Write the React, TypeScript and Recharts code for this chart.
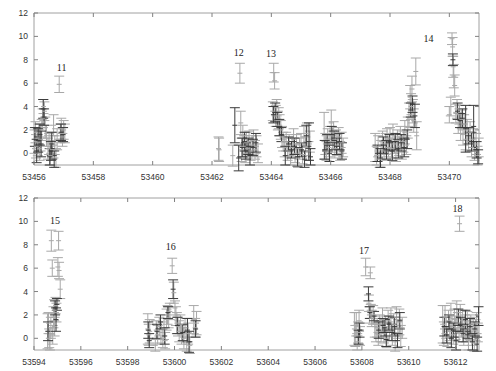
import { ScatterChart, Scatter, XAxis, YAxis, ErrorBar, ReferenceArea } from 'recharts';

// [time (MJD), value, error]
type Pt = [number, number, number];

const yTicks = [0, 2, 4, 6, 8, 10, 12];
const topTicks = [53456, 53458, 53460, 53462, 53464, 53466, 53468, 53470];
const bottomTicks = [53594, 53596, 53598, 53600, 53602, 53604, 53606, 53608, 53610, 53612];

const topGray: Pt[] = [
    [53456.02, 1.0, 1.0], [53456.05, 1.8, 0.9], [53456.07, 0.6, 1.0], [53456.10, 1.3, 0.9], [53456.13, 0.9, 1.1],
    [53456.16, 1.6, 0.9], [53456.19, 0.4, 1.0], [53456.22, 1.2, 1.0], [53456.26, 2.0, 0.9], [53456.29, 3.0, 0.8],
    [53456.32, 4.0, 0.6], [53456.35, 3.6, 0.8], [53456.38, 2.2, 0.9], [53456.42, 1.5, 0.9], [53456.47, 0.4, 0.9],
    [53456.51, 0.8, 0.9], [53456.55, -0.2, 0.8], [53456.58, 0.9, 0.9], [53456.62, 0.3, 0.8], [53456.66, 2.4, 0.9],
    [53456.70, 0.7, 0.8], [53456.74, -0.4, 0.8], [53456.78, 1.2, 0.9], [53456.85, 5.9, 0.7], [53456.89, 1.7, 0.8],
    [53456.92, 2.1, 0.9], [53456.96, 1.4, 0.8], [53457.00, 2.0, 0.8], [53457.04, 1.7, 0.8],
    [53462.22, 0.4, 1.0], [53462.24, 0.3, 1.0], [53462.70, -0.2, 0.9], [53462.94, 6.85, 0.85], [53462.97, 2.6, 1.0],
    [53463.00, 0.3, 1.0], [53463.04, 1.5, 0.9], [53463.08, 0.6, 0.9], [53463.12, 0.0, 0.8], [53463.16, 0.9, 0.9],
    [53463.20, 0.4, 0.8], [53463.25, 1.0, 0.9], [53463.30, 0.2, 0.8], [53463.35, 0.7, 0.8], [53463.40, 1.1, 0.9],
    [53463.45, 0.3, 0.8], [53463.50, 0.6, 0.9], [53463.55, 0.0, 0.8],
    [53464.05, 3.6, 0.8], [53464.08, 6.9, 0.8], [53464.11, 6.2, 0.7], [53464.15, 3.2, 0.9], [53464.18, 3.9, 0.7],
    [53464.22, 2.8, 0.8], [53464.25, 3.0, 0.9], [53464.28, 2.4, 0.9], [53464.32, 2.0, 0.8], [53464.36, 1.4, 0.9],
    [53464.40, 1.0, 0.8], [53464.45, 0.5, 0.8], [53464.50, 1.0, 0.8], [53464.55, 0.2, 0.8], [53464.60, 0.7, 0.9],
    [53464.65, -0.2, 0.8], [53464.70, 0.5, 0.8], [53464.75, 1.2, 0.9], [53464.80, 0.0, 0.8], [53464.85, 0.8, 0.8],
    [53464.90, -0.4, 0.8], [53464.95, 0.4, 0.9], [53465.00, 0.9, 0.8], [53465.05, -0.1, 0.8], [53465.10, 1.4, 0.9],
    [53465.15, 0.6, 0.8], [53465.20, 1.7, 0.9], [53465.25, 0.2, 0.8], [53465.30, 1.0, 0.9],
    [53465.78, 1.5, 2.0], [53465.82, 0.8, 0.9], [53465.86, 0.2, 0.8], [53465.90, 1.2, 0.9], [53465.94, 0.5, 0.8],
    [53465.98, 1.5, 0.8], [53466.02, 2.6, 1.1], [53466.06, 1.0, 0.9], [53466.10, 1.8, 0.9], [53466.14, 0.4, 0.8],
    [53466.18, 1.2, 0.8], [53466.22, 0.7, 0.9], [53466.27, 1.4, 0.8], [53466.32, 0.2, 0.8], [53466.37, 0.9, 0.9],
    [53466.42, 0.5, 0.8],
    [53467.50, 0.5, 1.2], [53467.55, -0.2, 0.8], [53467.60, 0.6, 0.9], [53467.65, -0.5, 0.7], [53467.70, 0.3, 0.8],
    [53467.75, 1.0, 0.9], [53467.80, 0.2, 0.8], [53467.85, 0.8, 0.9], [53467.90, 1.2, 0.9], [53467.95, 0.5, 0.8],
    [53468.00, 1.3, 0.9], [53468.05, 0.4, 0.8], [53468.10, 1.5, 1.0], [53468.15, 0.8, 0.8], [53468.20, 0.1, 0.8],
    [53468.25, 1.1, 0.9], [53468.30, 0.6, 0.8], [53468.35, 1.4, 0.9], [53468.40, 0.3, 0.8], [53468.45, 1.0, 0.9],
    [53468.50, 1.8, 1.0], [53468.55, 0.7, 0.8], [53468.60, 2.2, 0.9], [53468.64, 3.3, 1.0], [53468.68, 4.8, 1.0],
    [53468.71, 4.0, 1.1], [53468.74, 5.5, 1.1], [53468.77, 3.6, 1.0], [53468.80, 2.8, 1.0], [53468.87, 7.0, 1.15],
    [53468.90, 1.5, 1.2],
    [53470.00, 3.3, 0.7], [53470.05, 4.0, 0.8], [53470.09, 9.8, 0.5], [53470.11, 9.1, 0.8], [53470.13, 7.4, 0.9],
    [53470.15, 6.6, 1.0], [53470.18, 5.8, 0.9], [53470.22, 3.4, 0.8], [53470.26, 3.8, 0.8], [53470.30, 2.6, 0.9],
    [53470.34, 3.3, 0.8], [53470.38, 2.0, 0.9], [53470.42, 2.9, 0.8], [53470.46, 1.6, 0.9], [53470.50, 2.5, 0.8],
    [53470.55, 1.2, 0.9], [53470.60, 2.0, 0.9], [53470.65, 1.0, 0.8], [53470.70, 1.8, 0.9], [53470.75, 0.5, 0.8],
    [53470.80, 1.2, 0.9], [53470.85, 0.2, 0.8], [53470.90, 0.8, 0.9], [53470.95, -0.2, 0.8], [53470.99, 0.5, 0.8],
];

const topDark: Pt[] = [
    [53456.03, 1.4, 0.8], [53456.09, 0.2, 1.0], [53456.14, 1.1, 1.0], [53456.20, 1.6, 0.9], [53456.24, 0.8, 1.1],
    [53456.31, 3.8, 0.8], [53456.34, 3.1, 0.7], [53456.53, -0.3, 0.7], [53456.57, 0.2, 0.8], [53456.60, 0.8, 1.0],
    [53456.68, -0.5, 0.7], [53456.91, 1.8, 0.7], [53456.98, 1.6, 0.6],
    [53462.77, 2.4, 1.5], [53462.90, -0.4, 1.1], [53463.02, 0.5, 0.8], [53463.10, 1.0, 0.8], [53463.14, 0.2, 0.7],
    [53463.22, 0.6, 0.7], [53463.28, -0.2, 0.8], [53463.38, 0.5, 0.7], [53463.48, 0.9, 0.8],
    [53464.07, 3.3, 0.7], [53464.13, 3.5, 0.8], [53464.20, 2.9, 0.6], [53464.27, 2.2, 0.7], [53464.34, 1.6, 0.6],
    [53464.47, -0.2, 0.8], [53464.58, 0.8, 0.6], [53464.68, 0.3, 0.7], [53464.78, 0.6, 0.7], [53464.88, -0.3, 0.8],
    [53465.02, 0.3, 0.6], [53465.12, -0.5, 0.7], [53465.18, 1.5, 0.9], [53465.27, 1.0, 1.6], [53465.32, -0.3, 0.7],
    [53465.80, 0.3, 0.8], [53465.88, 0.9, 0.7], [53465.96, 0.0, 0.7], [53466.04, 1.6, 0.7], [53466.12, 1.1, 0.8],
    [53466.20, 0.6, 0.7], [53466.30, 1.0, 0.7], [53466.38, 0.2, 0.7],
    [53467.58, 0.0, 0.7], [53467.68, -0.4, 0.8], [53467.78, 0.7, 0.7], [53467.88, 0.3, 0.8], [53467.98, 0.9, 0.7],
    [53468.08, 0.2, 0.8], [53468.18, 1.0, 0.7], [53468.28, 0.4, 0.8], [53468.38, 0.9, 0.7], [53468.48, 0.5, 0.8],
    [53468.58, 1.2, 0.8], [53468.70, 3.7, 0.6], [53468.76, 4.2, 0.7], [53468.84, 3.2, 1.0],
    [53470.12, 8.0, 0.5], [53470.28, 3.6, 0.7], [53470.36, 2.8, 0.6], [53470.44, 3.0, 0.8], [53470.55, 2.1, 2.0],
    [53470.65, 1.5, 0.7], [53470.75, 1.0, 0.8], [53470.82, 2.3, 1.8], [53470.92, 0.3, 0.7], [53470.97, -0.3, 0.6],
];

const bottomGray: Pt[] = [
    [53594.58, 0.6, 1.5], [53594.62, 1.3, 0.9], [53594.65, 0.0, 0.8], [53594.68, -0.3, 0.7], [53594.72, 0.9, 0.9],
    [53594.74, 8.35, 0.9], [53594.78, 6.0, 0.7], [53594.80, 0.3, 0.8], [53594.83, 1.8, 0.9], [53594.86, 2.4, 0.9],
    [53594.88, 1.0, 0.8], [53594.92, 2.8, 0.7], [53594.96, 2.2, 0.8], [53595.02, 6.1, 0.8], [53595.05, 8.35, 0.8],
    [53595.07, 5.8, 0.7], [53595.12, 4.2, 0.8],
    [53598.86, 0.8, 1.3], [53598.90, 0.3, 0.9], [53598.94, 0.6, 1.0], [53599.18, -0.6, 0.5], [53599.22, 0.7, 0.8],
    [53599.28, 0.3, 0.8], [53599.35, 1.0, 0.8], [53599.42, 0.5, 0.9], [53599.50, 0.0, 0.8], [53599.55, 0.8, 0.9],
    [53599.60, -0.2, 0.7], [53599.66, 1.6, 0.9], [53599.70, 2.0, 0.8], [53599.75, 1.8, 0.9], [53599.80, 2.3, 0.7],
    [53599.90, 6.2, 0.65], [53599.97, 3.9, 0.9], [53600.02, 2.6, 0.6], [53600.06, 1.9, 0.8], [53600.10, 1.3, 0.9],
    [53600.15, 1.0, 0.8], [53600.20, 0.6, 0.9], [53600.25, 1.2, 0.8], [53600.30, 0.3, 0.8], [53600.40, 0.0, 0.9],
    [53600.45, 0.9, 0.8], [53600.52, -0.3, 0.8], [53600.58, 0.4, 0.9], [53600.65, -0.6, 0.7], [53600.82, 1.6, 1.2],
    [53600.88, 0.9, 0.8], [53600.94, 1.3, 1.0],
    [53607.68, 0.8, 1.4], [53607.72, 0.2, 0.9], [53607.76, 1.2, 1.0], [53607.80, -0.3, 0.7], [53607.84, 0.5, 0.9],
    [53607.88, 1.5, 0.9], [53607.92, 0.2, 0.8], [53608.16, 6.1, 0.75], [53608.36, 5.6, 0.5], [53608.30, 3.0, 0.7],
    [53608.32, 2.0, 0.7], [53608.38, 2.3, 0.6], [53608.42, 1.7, 0.7], [53608.48, 2.0, 0.8], [53608.55, 1.0, 0.9],
    [53608.60, 0.5, 0.8], [53608.65, 0.9, 0.8], [53608.70, 0.3, 0.9], [53608.76, 1.2, 0.8], [53608.82, 0.6, 0.9],
    [53608.88, 1.6, 1.0], [53608.94, 0.4, 0.8], [53609.00, 1.0, 0.9], [53609.06, 0.0, 0.8], [53609.12, 1.5, 0.9],
    [53609.18, 0.6, 0.8], [53609.24, 1.7, 0.9], [53609.30, 0.2, 0.8], [53609.36, 1.2, 0.9], [53609.42, -0.3, 0.8],
    [53609.48, 1.8, 0.9], [53609.54, 0.8, 0.8], [53609.60, 1.4, 1.1], [53609.66, 0.2, 0.9], [53609.72, 0.9, 0.9],
    [53611.45, 1.2, 1.6], [53611.50, 0.4, 1.0], [53611.55, 1.8, 1.0], [53611.60, 0.9, 0.9], [53611.65, 0.1, 0.8],
    [53611.70, 1.5, 0.9], [53611.75, 0.6, 0.8], [53611.80, 2.0, 1.0], [53611.85, 1.0, 0.9], [53611.90, 0.3, 0.8],
    [53611.95, 1.6, 0.9], [53612.00, 0.8, 0.9], [53612.05, 2.2, 1.0], [53612.10, 1.3, 0.9], [53612.15, 0.5, 0.8],
    [53612.17, 9.8, 0.65], [53612.20, 1.9, 1.0], [53612.25, 0.9, 0.8], [53612.30, 1.5, 0.9], [53612.35, 0.2, 0.8],
    [53612.40, 1.1, 0.9], [53612.45, 0.6, 0.9], [53612.50, 1.4, 0.9], [53612.55, -0.2, 0.8], [53612.60, 0.8, 0.9],
    [53612.65, 1.2, 0.8], [53612.70, 0.3, 0.9], [53612.75, 1.0, 0.8], [53612.80, -0.4, 0.7], [53612.85, 0.7, 0.9],
    [53612.90, 1.3, 0.9], [53612.95, 0.5, 0.8],
];

const bottomDark: Pt[] = [
    [53594.60, 0.6, 0.8], [53594.90, 2.6, 0.6], [53594.94, 1.6, 1.0], [53594.98, 2.9, 0.5],
    [53598.88, 0.7, 0.7], [53598.92, -0.2, 0.6], [53599.25, 0.6, 0.6], [53599.40, 1.4, 0.6], [53599.58, 0.2, 0.7],
    [53599.72, 2.2, 0.5], [53599.94, 4.2, 0.8], [53600.12, 1.1, 0.7], [53600.35, 0.5, 0.7], [53600.55, 0.7, 1.0],
    [53600.62, -0.3, 0.9], [53600.90, 0.8, 0.7],
    [53607.86, 0.1, 0.6], [53607.90, 0.7, 0.6], [53608.28, 3.8, 0.6], [53608.34, 2.2, 0.5], [53608.52, 1.9, 0.4],
    [53608.72, 0.7, 0.7], [53608.90, 1.1, 0.6], [53608.98, 0.9, 0.7], [53609.04, -0.1, 0.6], [53609.15, 1.3, 0.6],
    [53609.28, 0.5, 0.7], [53609.40, 1.0, 0.8], [53609.52, -0.2, 0.6], [53609.62, 1.5, 0.7],
    [53611.52, 1.0, 0.8], [53611.62, 0.3, 0.7], [53611.72, 1.4, 0.6], [53611.82, 0.0, 0.8], [53611.92, 0.7, 0.6],
    [53612.02, -0.2, 0.8], [53612.12, 1.8, 0.7], [53612.22, 1.2, 0.6], [53612.32, 0.4, 0.7], [53612.42, 1.6, 0.8],
    [53612.52, 0.6, 0.6], [53612.62, 1.0, 0.7], [53612.72, -0.3, 0.7], [53612.82, 0.8, 0.6], [53612.92, -0.5, 0.6],
    [53612.98, 1.9, 0.8],
];

// flare labels: [time, value, text]
const topLabels: [number, number, string][] = [
    [53456.93, 7.33, '11'], [53462.90, 8.63, '12'], [53463.99, 8.51, '13'], [53469.30, 9.79, '14'],
];
const bottomLabels: [number, number, string][] = [
    [53594.90, 10.08, '15'], [53599.84, 7.85, '16'], [53608.09, 7.51, '17'], [53612.08, 11.14, '18'],
];

const W = 496;
const PT = 13;
const PB = 165;
const PL = 34;
const PR = 479;
const FRAME = '#a0a0a0';
const TICK = '#808080';
const GRAY = '#a8a8a8';
const DARK = '#3a3a3a';

const rows = (pts: Pt[]) => pts.map(([t, v, e]) => ({ t, v, e }));

const XTick = (props: any) => {
    const { x, payload } = props;
    return (
        <g>
            <line x1={x} x2={x} y1={PB} y2={PB - 4} stroke={TICK} />
            <line x1={x} x2={x} y1={PT} y2={PT + 4} stroke={TICK} />
            <text x={x} y={PB + 15} textAnchor="middle" fontSize={8.5} fill="#333" fontFamily="Liberation Sans, Arial">
                {payload.value}
            </text>
        </g>
    );
};

const YTick = (props: any) => {
    const { y, payload } = props;
    return (
        <g>
            <line x1={PL} x2={PL + 4} y1={y} y2={y} stroke={TICK} />
            <line x1={PR} x2={PR - 4} y1={y} y2={y} stroke={TICK} />
            <text x={28} y={y + 3} textAnchor="end" fontSize={8.5} fill="#333" fontFamily="Liberation Sans, Arial">
                {payload.value}
            </text>
        </g>
    );
};

const mark = (color: string) => (p: any) => (
    <line x1={p.cx - 2.5} x2={p.cx + 2.5} y1={p.cy} y2={p.cy} stroke={color} strokeWidth={1} />
);

const labelMark = (p: any) => (
    <text x={p.cx} y={p.cy + 3.5} textAnchor="middle" fontSize={10} fill="#222" fontFamily="Liberation Serif, Times New Roman, serif">
        {p.payload.text}
    </text>
);

function Panel({ x0, x1, ticks, gray, dark, labels, height }: {
    x0: number; x1: number; ticks: number[]; gray: Pt[]; dark: Pt[]; labels: [number, number, string][]; height: number;
}) {
    const labelRows = labels.map(([t, v, text]) => ({ t, v, text }));
    return (
        <ScatterChart width={W} height={height} margin={{ top: PT, right: W - PR, bottom: 0, left: 0 }}>
            <XAxis
                dataKey="t"
                type="number"
                domain={[x0, x1]}
                ticks={ticks}
                allowDataOverflow
                axisLine={false}
                tickLine={false}
                tick={<XTick />}
                height={height - PB}
            />
            <YAxis
                dataKey="v"
                type="number"
                domain={[-1, 12]}
                ticks={yTicks}
                allowDataOverflow
                axisLine={false}
                tickLine={false}
                tick={<YTick />}
                width={PL}
            />
            <ReferenceArea x1={x0} x2={x1} y1={-1} y2={12} fill="none" stroke={FRAME} strokeWidth={1} />
            <Scatter data={rows(gray)} shape={mark(GRAY)} isAnimationActive={false}>
                <ErrorBar dataKey="e" direction="y" width={5} stroke={GRAY} strokeWidth={1} />
            </Scatter>
            <Scatter data={rows(dark)} shape={mark(DARK)} isAnimationActive={false}>
                <ErrorBar dataKey="e" direction="y" width={5} stroke={DARK} strokeWidth={1} />
            </Scatter>
            <Scatter data={labelRows} shape={labelMark} isAnimationActive={false} />
        </ScatterChart>
    );
}

export default function App() {
    return (
        <div style={{ position: 'absolute', left: 0, top: 0, width: W, height: 371, background: '#fff' }}>
            <Panel x0={53456} x1={53471} ticks={topTicks} gray={topGray} dark={topDark} labels={topLabels} height={185} />
            <Panel x0={53594} x1={53613} ticks={bottomTicks} gray={bottomGray} dark={bottomDark} labels={bottomLabels} height={186} />
        </div>
    );
}
